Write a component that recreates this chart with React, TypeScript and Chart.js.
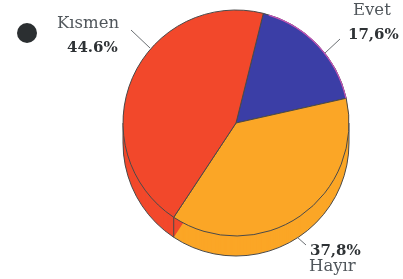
import React, { useEffect, useRef } from "react";
import { Chart, registerables } from "chart.js";

Chart.register(...registerables);

const categories = ["Evet", "Hayır", "Kısmen"];
const values = [17.6, 37.8, 44.6];
const valueLabels = ["17,6%", "37,8%", "44.6%"];
const colors = ["#3b3ea6", "#fba626", "#f2482b"];

const DEPTH = 20;

const sidePlugin = {
  id: "side3d",
  beforeDatasetsDraw(chart: any) {
    const ctx = chart.ctx;
    const meta = chart.getDatasetMeta(0);
    ctx.save();
    meta.data.forEach((arc: any, i: number) => {
      const { x, y, startAngle, endAngle, outerRadius } = arc.getProps(
        ["x", "y", "startAngle", "endAngle", "outerRadius"],
        true
      );
      ctx.fillStyle = colors[i];
      for (let d = DEPTH; d >= 1; d--) {
        ctx.beginPath();
        ctx.moveTo(x, y + d);
        ctx.arc(x, y + d, outerRadius, startAngle, endAngle);
        ctx.closePath();
        ctx.fill();
      }
    });
    // outline of the bottom rim
    const a0 = meta.data[0];
    const { x, y, outerRadius } = a0.getProps(["x", "y", "outerRadius"], true);
    ctx.strokeStyle = "#4a4a4a";
    ctx.lineWidth = 1;
    ctx.beginPath();
    ctx.arc(x, y + DEPTH, outerRadius, 0, Math.PI);
    ctx.stroke();
    ctx.beginPath();
    ctx.moveTo(x - outerRadius, y);
    ctx.lineTo(x - outerRadius, y + DEPTH);
    ctx.moveTo(x + outerRadius, y);
    ctx.lineTo(x + outerRadius, y + DEPTH);
    ctx.stroke();
    // seams
    meta.data.forEach((arc: any) => {
      const { startAngle } = arc.getProps(["startAngle"], true);
      const s = Math.sin(startAngle);
      if (s > 0) {
        const px = x + outerRadius * Math.cos(startAngle);
        const py = y + outerRadius * s;
        ctx.beginPath();
        ctx.moveTo(px, py);
        ctx.lineTo(px, py + DEPTH);
        ctx.stroke();
      }
    });
    ctx.restore();
  },
  afterDatasetsDraw(chart: any) {
    const ctx = chart.ctx;
    const meta = chart.getDatasetMeta(0);
    const arc = meta.data[0];
    const { x, y, startAngle, endAngle, outerRadius } = arc.getProps(
      ["x", "y", "startAngle", "endAngle", "outerRadius"],
      true
    );
    ctx.save();
    ctx.strokeStyle = "#c454b8";
    ctx.lineWidth = 1.2;
    ctx.beginPath();
    ctx.arc(x, y, outerRadius - 0.3, startAngle + 0.05, endAngle);
    ctx.stroke();
    ctx.restore();
  },
  afterDraw(chart: any) {
    const ctx = chart.ctx;
    ctx.save();
    // bullet
    ctx.fillStyle = "#2b2f31";
    ctx.beginPath();
    ctx.arc(27, 33, 10, 0, Math.PI * 2);
    ctx.fill();

    const nameFont = "16.5px 'DejaVu Serif'";
    const pctFont = "bold 15px 'DejaVu Serif'";
    const nameColor = "#50565b";
    const pctColor = "#2e3235";

    ctx.textBaseline = "alphabetic";
    ctx.textAlign = "left";
    // Kısmen
    ctx.font = nameFont;
    ctx.fillStyle = nameColor;
    ctx.fillText(categories[2], 57, 28);
    ctx.font = pctFont;
    ctx.fillStyle = pctColor;
    ctx.fillText(valueLabels[2], 67, 52);
    // Evet
    ctx.font = nameFont;
    ctx.fillStyle = nameColor;
    ctx.fillText(categories[0], 353, 15);
    ctx.font = pctFont;
    ctx.fillStyle = pctColor;
    ctx.fillText(valueLabels[0], 348, 39);
    // Hayır
    ctx.font = pctFont;
    ctx.fillStyle = pctColor;
    ctx.fillText(valueLabels[1], 310, 255);
    ctx.font = nameFont;
    ctx.fillStyle = nameColor;
    ctx.fillText(categories[1], 309, 271);

    // leader lines
    ctx.strokeStyle = "#6a6e72";
    ctx.lineWidth = 1;
    ctx.beginPath();
    ctx.moveTo(131, 30);
    ctx.lineTo(150, 48);
    ctx.moveTo(340, 39);
    ctx.lineTo(325, 53);
    ctx.moveTo(297, 237);
    ctx.lineTo(306, 245);
    ctx.stroke();
    ctx.restore();
  },
};

export default function App() {
  const ref = useRef<HTMLCanvasElement>(null);
  useEffect(() => {
    document.body.style.margin = "0";
    const chart = new Chart(ref.current!, {
      type: "pie",
      data: {
        labels: categories,
        datasets: [
          {
            data: values,
            backgroundColor: colors,
            borderColor: "#4a4a4a",
            borderWidth: 1,
          },
        ],
      },
      options: {
        responsive: false,
        animation: false,
        rotation: 14,
        layout: { padding: { left: 122.5, right: 53.5, top: 9.5, bottom: 42.5 } },
        plugins: { legend: { display: false }, tooltip: { enabled: false } },
      },
      plugins: [sidePlugin],
    });
    return () => chart.destroy();
  }, []);
  return (
    <div style={{ width: 403, height: 279, background: "#fff" }}>
      <canvas ref={ref} width={403} height={279} />
    </div>
  );
}
